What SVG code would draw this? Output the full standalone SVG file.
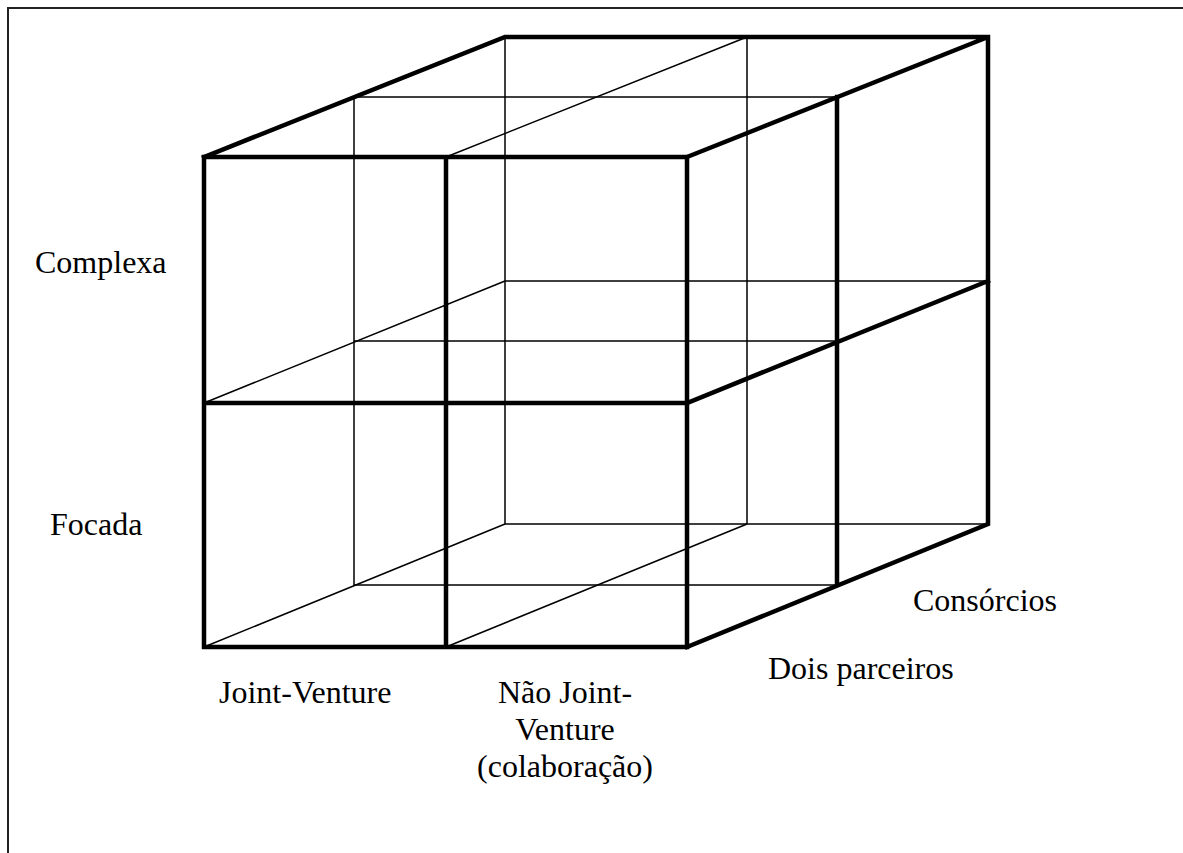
<svg xmlns="http://www.w3.org/2000/svg" width="1183" height="853" viewBox="0 0 1183 853">
<style>
.thick{stroke:#000;stroke-width:4.5;fill:none;stroke-linecap:square;stroke-linejoin:miter}
.thin{stroke:#000;stroke-width:1.5;fill:none}
.frame{stroke:#222;stroke-width:2;fill:none}
text{font-family:"Liberation Serif","Times New Roman",serif;font-size:32px;fill:#000}
</style>
<rect width="1183" height="853" fill="#fff"/>
<path class="frame" d="M8,853 V8 H1183"/>
<g id="connectors">
<!-- back face (thin) -->
<path class="thin" d="M505,37 V524 H988 M747,37 V524 M505,281 H988"/>
<!-- middle layer (thin) -->
<path class="thin" d="M354,97 V585 H837 M354,97 H837 M354,341 H837"/>
<!-- depth lines (thin) -->
<path class="thin" d="M446,157 L747,37 M204,403 L505,281 M204,647 L505,524 M446,647 L747,524"/>
<!-- thick outline -->
<path class="thick" d="M204,157 H687 V647 H204 Z M446,157 V647 M204,403 H687"/>
<path class="thick" d="M204,157 L505,37 H988 L687,157 M988,37 V524 L687,647 M687,403 L988,281 M837,97 V585"/>
</g>
<g id="label-complexa"><text x="35" y="273">Complexa</text></g>
<g id="label-focada"><text x="50" y="535">Focada</text></g>
<g id="label-jv"><text x="219" y="703">Joint-Venture</text></g>
<g id="label-njv"><text x="565" y="703" text-anchor="middle">Não Joint-</text><text x="565" y="740" text-anchor="middle">Venture</text><text x="565" y="777" text-anchor="middle">(colaboração)</text></g>
<g id="label-dois"><text x="768" y="679">Dois parceiros</text></g>
<g id="label-consorcios"><text x="913" y="611">Consórcios</text></g>
</svg>
